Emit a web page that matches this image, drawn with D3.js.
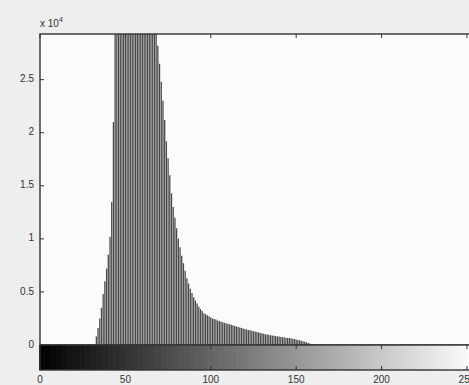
<!DOCTYPE html>
<html>
<head>
<meta charset="utf-8">
<script src="https://cdn.jsdelivr.net/npm/d3@7"></script>
<style>
  html, body { margin: 0; padding: 0; background: #eeeeee; }
  svg { display: block; }
  text { font-family: "Liberation Sans", Arial, sans-serif; fill: #333; }
</style>
</head>
<body>
<svg id="chart" width="469" height="385"></svg>
<script>
// Gray-level histogram of an 8-bit image (pixel counts per intensity 0..255)
const grayLevels = d3.range(256);
const counts = [
  0,0,0,0,0,0,0,0,0,0, 0,0,0,0,0,0,0,0,0,0,
  0,0,0,0,0,0,0,0,0,0, 0,0,0,800,1600,2500,3500,4800,6000,7200,
  8500,10200,13500,21000,30500,38000,45000,52000,60000,66000,
  71000,74000,76000,77000,76500,75000,72000,69000,65000,61000,
  57000,53000,49000,45000,41500,38000,35000,32500,30000,28200,
  26500,24800,23000,21200,19200,17600,16000,14300,13000,12000,
  11000,10000,9200,8400,7700,7000,6300,5800,5300,4900,
  4500,4200,3900,3600,3400,3200,3000,2900,2800,2700,
  2600,2500,2450,2400,2300,2250,2200,2150,2100,2050,
  2000,1950,1900,1850,1800,1750,1700,1650,1600,1550,
  1500,1450,1420,1380,1340,1300,1260,1220,1180,1140,
  1100,1060,1020,990,960,930,900,870,840,810,
  790,760,740,710,690,670,650,620,590,560,
  520,480,440,400,350,300,250,200,150,100,
  60,30,0,0,0,0,0,0,0,0,
  0,0,0,0,0,0,0,0,0,0, 0,0,0,0,0,0,0,0,0,0,
  0,0,0,0,0,0,0,0,0,0, 0,0,0,0,0,0,0,0,0,0,
  0,0,0,0,0,0,0,0,0,0, 0,0,0,0,0,0,0,0,0,0,
  0,0,0,0,0,0,0,0,0,0, 0,0,0,0,0,0
];
const xTicks = [0, 50, 100, 150, 200, 250];
const yTicks = [0, 5000, 10000, 15000, 20000, 25000];
const yTickLabels = ["0", "0.5", "1", "1.5", "2", "2.5"];
const yMax = 29300;

(function draw() {
  const svg = d3.select("#chart");
  const W = 469, H = 385;
  const plotLeft = 40, plotRight = 475.5, plotTop = 34, plotBase = 345, barBottom = 370;

  svg.append("rect").attr("width", W).attr("height", H).attr("fill", "#eeeeee");

  const x = d3.scaleLinear().domain([0, 255]).range([plotLeft, plotRight]);
  const y = d3.scaleLinear().domain([0, yMax]).range([plotBase, plotTop]);

  // histogram axes background
  svg.append("rect")
    .attr("x", plotLeft).attr("y", plotTop)
    .attr("width", plotRight - plotLeft).attr("height", plotBase - plotTop)
    .attr("fill", "#fbfbfb");

  svg.append("clipPath").attr("id", "plotClip")
    .append("rect")
    .attr("x", plotLeft).attr("y", plotTop)
    .attr("width", plotRight - plotLeft).attr("height", plotBase - plotTop);

  // stems
  svg.append("g").attr("clip-path", "url(#plotClip)")
    .selectAll("line")
    .data(grayLevels.filter(i => counts[i] > 0))
    .join("line")
    .attr("x1", i => x(i)).attr("x2", i => x(i))
    .attr("y1", y(0)).attr("y2", i => y(counts[i]))
    .attr("stroke", "#4a4a4a")
    .attr("stroke-width", 1.3);

  // axes box (histogram)
  const axisColor = "#333333";
  svg.append("rect")
    .attr("x", plotLeft).attr("y", plotTop)
    .attr("width", plotRight - plotLeft).attr("height", plotBase - plotTop)
    .attr("fill", "none").attr("stroke", axisColor).attr("stroke-width", 1.4);

  // y ticks (inward) and labels
  const yAxis = svg.append("g");
  yAxis.selectAll("line")
    .data(yTicks)
    .join("line")
    .attr("x1", plotLeft).attr("x2", plotLeft + 4)
    .attr("y1", d => y(d)).attr("y2", d => y(d))
    .attr("stroke", axisColor);
  yAxis.selectAll("text")
    .data(yTicks)
    .join("text")
    .attr("x", plotLeft - 6).attr("y", d => y(d))
    .attr("text-anchor", "end").attr("dominant-baseline", "middle")
    .attr("font-size", 10)
    .text((d, i) => yTickLabels[i]);

  // top ticks of histogram axes
  svg.append("g").selectAll("line")
    .data(xTicks)
    .join("line")
    .attr("x1", d => x(d)).attr("x2", d => x(d))
    .attr("y1", plotTop).attr("y2", plotTop + 4)
    .attr("stroke", axisColor);

  // exponent label
  const expo = svg.append("text")
    .attr("x", plotLeft).attr("y", 27)
    .attr("font-size", 10);
  expo.append("tspan").text("x 10");
  expo.append("tspan").attr("dy", -5).attr("font-size", 7).text("4");

  // intensity colour bar
  const step = x(1) - x(0);
  svg.append("g").selectAll("rect")
    .data(grayLevels)
    .join("rect")
    .attr("x", i => x(i) - 0.5 * step)
    .attr("y", plotBase)
    .attr("width", step + 0.6)
    .attr("height", barBottom - plotBase)
    .attr("fill", i => d3.rgb(i, i, i));

  svg.append("rect")
    .attr("x", plotLeft).attr("y", plotBase)
    .attr("width", plotRight - plotLeft).attr("height", barBottom - plotBase)
    .attr("fill", "none").attr("stroke", axisColor).attr("stroke-width", 1.4);

  const xAxis = svg.append("g");
  xAxis.selectAll("line.b")
    .data(xTicks)
    .join("line")
    .attr("class", "b")
    .attr("x1", d => x(d)).attr("x2", d => x(d))
    .attr("y1", barBottom - 4).attr("y2", barBottom)
    .attr("stroke", axisColor);
  xAxis.selectAll("line.t")
    .data(xTicks)
    .join("line")
    .attr("class", "t")
    .attr("x1", d => x(d)).attr("x2", d => x(d))
    .attr("y1", plotBase).attr("y2", plotBase + 4)
    .attr("stroke", axisColor);
  xAxis.selectAll("text")
    .data(xTicks)
    .join("text")
    .attr("x", d => x(d)).attr("y", barBottom + 6)
    .attr("text-anchor", "middle").attr("dominant-baseline", "hanging")
    .attr("font-size", 10)
    .text(d => d);
})();
</script>
</body>
</html>
